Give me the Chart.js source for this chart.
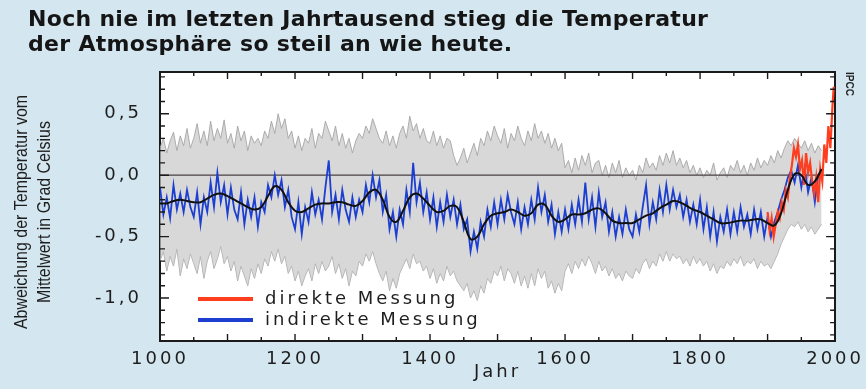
<!DOCTYPE html>
<html>
<head>
<meta charset="utf-8">
<script src="https://cdn.jsdelivr.net/npm/chart.js@4"></script>
<style>
  body { margin: 0; background: #d4e6ef; }
  #wrap { position: relative; width: 866px; height: 389px; }
  #title {
    position: absolute; left: 28px; top: 6px;
    font: bold 22px "DejaVu Sans", sans-serif;
    letter-spacing: 0.3px;
    line-height: 25px; color: #151515;
  }
  canvas { position: absolute; left: 0; top: 0; }
</style>
</head>
<body>
<div id="wrap">
  <canvas id="myChart" width="866" height="389"></canvas>
  <div id="title">Noch nie im letzten Jahrtausend stieg die Temperatur<br>der Atmosphäre so steil an wie heute.</div>
</div>
<script>
// Beschriftungen
const yTitleLines = ['Abweichung der Temperatur vom', 'Mittelwert in Grad Celsius']
const xTitle = 'Jahr'
const xTickLabels = { 1000: '1000', 1200: '1200', 1400: '1400', 1600: '1600', 1800: '1800', 2000: '2000' }
const yTickLabels = { '5': '0,5', '0': '0,0', '-5': '-0,5', '-10': '-1,0' }
const legendDirect = 'direkte Messung'
const legendIndirect = 'indirekte Messung'

// indirekte Messung (Proxy), alle 5 Jahre ab 1000
const proxyStart = 1000
const proxyValues = [
  -0.10,-0.32,-0.18,-0.35,-0.08,-0.28,-0.15,-0.30,-0.12,-0.26,
  -0.34,-0.14,-0.40,-0.18,-0.30,-0.06,-0.26,0.02,-0.22,-0.08,
  -0.32,-0.10,-0.28,-0.36,-0.14,-0.40,-0.20,-0.34,-0.18,-0.42,
  -0.22,-0.30,-0.08,-0.18,0.00,-0.16,-0.04,-0.26,-0.12,-0.34,
  -0.44,-0.22,-0.48,-0.26,-0.38,-0.14,-0.32,-0.20,-0.36,-0.10,
  0.12,-0.30,-0.16,-0.36,-0.12,-0.28,-0.38,-0.18,-0.34,-0.20,
  -0.30,-0.08,-0.22,0.00,-0.18,-0.04,-0.30,-0.16,-0.44,-0.30,
  -0.50,-0.28,-0.40,-0.12,-0.30,0.10,-0.22,-0.06,-0.30,-0.14,
  -0.36,-0.18,-0.42,-0.22,-0.38,-0.16,-0.34,-0.20,-0.40,-0.24,
  -0.44,-0.36,-0.62,-0.46,-0.60,-0.38,-0.50,-0.28,-0.42,-0.22,
  -0.40,-0.20,-0.36,-0.16,-0.30,-0.40,-0.22,-0.44,-0.26,-0.40,
  -0.20,-0.36,-0.10,-0.30,-0.16,-0.38,-0.24,-0.48,-0.30,-0.46,
  -0.28,-0.44,-0.24,-0.40,-0.20,-0.38,-0.06,-0.36,-0.18,-0.42,
  -0.14,-0.34,-0.22,-0.46,-0.30,-0.50,-0.34,-0.48,-0.28,-0.44,
  -0.50,-0.32,-0.46,-0.26,-0.08,-0.40,-0.22,-0.36,-0.12,-0.30,
  -0.08,-0.28,-0.12,-0.26,-0.16,-0.34,-0.20,-0.38,-0.24,-0.40,
  -0.20,-0.44,-0.26,-0.50,-0.30,-0.54,-0.34,-0.46,-0.28,-0.48,
  -0.30,-0.46,-0.26,-0.42,-0.32,-0.48,-0.28,-0.44,-0.30,-0.50,
  -0.34,-0.50,-0.38,-0.30,-0.20,-0.12,-0.02,0.04,-0.06,0.08,
  -0.10,0.06,-0.14,-0.02,-0.22,0.00,0.04
]

// Unsicherheitsbereich (grau), alle 5 Jahre ab 1000
const bandUpper = [
  0.22,0.30,0.18,0.28,0.35,0.20,0.32,0.24,0.38,0.22,
  0.30,0.42,0.26,0.36,0.24,0.44,0.28,0.38,0.30,0.45,
  0.26,0.34,0.22,0.40,0.28,0.36,0.20,0.32,0.26,0.30,
  0.24,0.36,0.30,0.44,0.34,0.50,0.38,0.46,0.30,0.36,
  0.22,0.32,0.20,0.30,0.26,0.38,0.22,0.34,0.30,0.44,
  0.36,0.28,0.40,0.24,0.34,0.22,0.30,0.18,0.28,0.34,
  0.30,0.40,0.34,0.46,0.38,0.30,0.26,0.36,0.24,0.32,
  0.22,0.34,0.40,0.30,0.48,0.36,0.42,0.30,0.38,0.28,
  0.26,0.36,0.24,0.32,0.22,0.30,0.28,0.16,0.08,0.14,
  0.22,0.10,0.18,0.26,0.16,0.30,0.24,0.36,0.28,0.40,
  0.32,0.26,0.38,0.22,0.34,0.28,0.40,0.30,0.24,0.36,
  0.28,0.42,0.30,0.36,0.26,0.34,0.22,0.30,0.20,0.26,
  0.06,0.12,0.02,0.14,0.04,0.16,0.08,0.18,0.02,0.10,
  0.12,0.00,0.08,-0.02,0.10,0.02,0.12,-0.02,0.06,0.00,
  0.04,-0.04,0.08,0.02,0.14,0.06,0.10,0.04,0.16,0.08,
  0.18,0.10,0.20,0.08,0.14,0.06,0.12,0.02,0.08,0.00,
  0.06,-0.02,0.04,0.00,0.10,-0.04,0.02,0.06,-0.02,0.08,
  0.04,0.12,0.02,0.08,0.00,0.10,0.04,0.14,0.06,0.12,
  0.08,0.16,0.10,0.20,0.14,0.22,0.28,0.24,0.30,0.26,
  0.22,0.28,0.20,0.26,0.18,0.24,0.20
]
const bandLower = [
  -0.70,-0.62,-0.78,-0.66,-0.74,-0.60,-0.82,-0.68,-0.76,-0.64,
  -0.72,-0.80,-0.66,-0.84,-0.70,-0.62,-0.76,-0.68,-0.58,-0.72,
  -0.66,-0.78,-0.70,-0.86,-0.74,-0.82,-0.90,-0.76,-0.84,-0.72,
  -0.80,-0.68,-0.74,-0.62,-0.70,-0.60,-0.72,-0.66,-0.80,-0.74,
  -0.86,-0.78,-0.90,-0.82,-0.76,-0.86,-0.72,-0.80,-0.70,-0.78,
  -0.74,-0.66,-0.80,-0.72,-0.84,-0.76,-0.90,-0.78,-0.82,-0.70,
  -0.74,-0.64,-0.70,-0.62,-0.72,-0.80,-0.86,-0.78,-0.94,-0.84,
  -0.92,-0.80,-0.74,-0.68,-0.76,-0.64,-0.72,-0.70,-0.78,-0.74,
  -0.84,-0.76,-0.88,-0.80,-0.86,-0.74,-0.82,-0.78,-0.86,-0.90,
  -0.94,-0.88,-1.00,-0.94,-1.02,-0.90,-0.96,-0.84,-0.88,-0.78,
  -0.82,-0.74,-0.86,-0.76,-0.80,-0.88,-0.78,-0.90,-0.82,-0.92,
  -0.80,-0.90,-0.76,-0.84,-0.78,-0.92,-0.86,-0.96,-0.88,-0.94,
  -0.78,-0.72,-0.80,-0.70,-0.76,-0.68,-0.74,-0.66,-0.72,-0.80,
  -0.70,-0.78,-0.74,-0.82,-0.76,-0.84,-0.80,-0.86,-0.78,-0.82,
  -0.84,-0.76,-0.80,-0.72,-0.68,-0.76,-0.70,-0.74,-0.64,-0.70,
  -0.62,-0.70,-0.64,-0.68,-0.66,-0.72,-0.68,-0.74,-0.66,-0.72,
  -0.68,-0.74,-0.70,-0.78,-0.72,-0.80,-0.74,-0.76,-0.70,-0.74,
  -0.68,-0.72,-0.66,-0.74,-0.70,-0.72,-0.68,-0.76,-0.70,-0.74,
  -0.72,-0.76,-0.70,-0.64,-0.56,-0.50,-0.44,-0.40,-0.42,-0.38,
  -0.44,-0.40,-0.46,-0.42,-0.48,-0.44,-0.40
]

// geglaettete Kurve (schwarz), alle 10 Jahre ab 1000
const smoothStart = 1000
const smoothValues = [
  -0.23,-0.23,-0.21,-0.20,-0.21,-0.22,-0.22,-0.19,-0.16,-0.15,
  -0.17,-0.20,-0.23,-0.26,-0.28,-0.26,-0.17,-0.09,-0.12,-0.22,
  -0.29,-0.30,-0.27,-0.24,-0.23,-0.23,-0.22,-0.22,-0.24,-0.25,
  -0.21,-0.14,-0.12,-0.20,-0.34,-0.38,-0.29,-0.18,-0.15,-0.19,
  -0.25,-0.30,-0.29,-0.25,-0.26,-0.38,-0.52,-0.50,-0.40,-0.33,
  -0.31,-0.30,-0.28,-0.30,-0.33,-0.31,-0.24,-0.24,-0.33,-0.38,
  -0.36,-0.32,-0.32,-0.31,-0.28,-0.27,-0.31,-0.37,-0.39,-0.39,
  -0.39,-0.36,-0.33,-0.31,-0.27,-0.24,-0.21,-0.22,-0.25,-0.28,
  -0.30,-0.33,-0.36,-0.39,-0.39,-0.38,-0.37,-0.37,-0.36,-0.36,
  -0.39,-0.41,-0.31,-0.12,0.01,0.00,-0.08,-0.05,0.05
]

// direkte Messung (rot)
const directYears = [1900,1903,1906,1909,1912,1915,1918,1921,1924,1927,1930,1933,1936,1939,1942,1945,1948,1951,1954,1957,1960,1963,1966,1969,1972,1975,1978,1981,1984,1987,1990,1993,1996,1998]
const directValues = [-0.30,-0.45,-0.35,-0.50,-0.40,-0.30,-0.35,-0.22,-0.28,-0.12,-0.18,-0.02,0.08,0.22,0.15,0.25,0.05,0.12,-0.08,0.18,0.02,0.10,-0.05,-0.15,-0.02,-0.22,0.05,-0.05,0.25,0.10,0.40,0.22,0.55,0.72]

const bandStep = 5
const proxyStep = 5
const smoothStep = 10

function toPoints(start, step, values) {
  return values.map((v, i) => ({ x: start + i * step, y: v }))
}

const grayLine = 'rgba(165,165,165,0.9)'
const frameColor = '#1a1a1a'

const datasets = [
  { label: 'smooth', data: toPoints(smoothStart, smoothStep, smoothValues), borderColor: '#111', borderWidth: 2, tension: 0.4, order: 0 },
  { label: legendDirect, data: directYears.map((y, i) => ({ x: y, y: directValues[i] })), borderColor: '#ff3d1f', borderWidth: 2.2, order: 1 },
  { label: legendIndirect, data: toPoints(proxyStart, proxyStep, proxyValues), borderColor: '#1c3fd2', borderWidth: 1.8, order: 2 },
  { label: 'null', data: [{ x: 1000, y: 0 }, { x: 2000, y: 0 }], borderColor: '#4a4040', borderWidth: 1.2, order: 3 },
  { label: 'upper', data: toPoints(proxyStart, bandStep, bandUpper), borderColor: grayLine, borderWidth: 1, backgroundColor: 'rgba(200,200,200,0.7)', fill: '+1', order: 4 },
  { label: 'lower', data: toPoints(proxyStart, bandStep, bandLower), borderColor: grayLine, borderWidth: 1, order: 5 }
]

const frame = {
  id: 'frame',
  beforeDraw(chart) {
    const { ctx, chartArea: a } = chart
    ctx.save()
    ctx.fillStyle = '#fff'
    ctx.fillRect(a.left, a.top, a.right - a.left, a.bottom - a.top)
    ctx.restore()
    ctx.letterSpacing = '3px'
  },
  afterDraw(chart) {
    const { ctx, chartArea: a, scales } = chart
    ctx.save()
    // Teilstriche nach innen
    ctx.strokeStyle = frameColor
    ctx.lineWidth = 1.4
    ctx.beginPath()
    for (let v = -13; v <= 8; v++) {
      const py = scales.y.getPixelForValue(v / 10)
      const len = v % 5 === 0 ? 9 : 5
      ctx.moveTo(a.left, py); ctx.lineTo(a.left + len, py)
      ctx.moveTo(a.right, py); ctx.lineTo(a.right - len, py)
    }
    for (let yr = 1050; yr < 2000; yr += 50) {
      const px = scales.x.getPixelForValue(yr)
      const len = yr % 100 === 0 ? 7 : 4
      ctx.moveTo(px, a.bottom); ctx.lineTo(px, a.bottom - len)
      ctx.moveTo(px, a.top); ctx.lineTo(px, a.top + len)
    }
    ctx.stroke()

    // Legende
    const items = [datasets[1], datasets[2]]
    ctx.font = '18px "DejaVu Sans", sans-serif'
    ctx.textBaseline = 'middle'
    ctx.textAlign = 'left'
    items.forEach((d, i) => {
      const ly = a.bottom - 42 + i * 21
      ctx.strokeStyle = d.borderColor
      ctx.lineWidth = 4
      ctx.beginPath()
      ctx.moveTo(a.left + 38, ly); ctx.lineTo(a.left + 93, ly)
      ctx.stroke()
      ctx.fillStyle = '#1e1e1e'
      ctx.fillText(d.label, a.left + 105, ly)
    })

    // Achsentitel links
    ctx.letterSpacing = '0px'
    ctx.fillStyle = '#1e1e1e'
    ctx.font = '19px "Liberation Sans", sans-serif'
    ctx.textAlign = 'center'
    ctx.translate(22, 212)
    ctx.rotate(-Math.PI / 2)
    ctx.scale(0.84, 1)
    ctx.fillText(yTitleLines[0], 0, 0)
    ctx.fillText(yTitleLines[1], 0, 23)
    ctx.restore()

    // IPCC
    ctx.save()
    ctx.letterSpacing = '0px'
    ctx.fillStyle = '#222'
    ctx.font = 'bold 10px "Liberation Sans", sans-serif'
    ctx.translate(a.right + 14, a.top + 12)
    ctx.rotate(Math.PI / 2)
    ctx.textAlign = 'center'
    ctx.textBaseline = 'middle'
    ctx.fillText('IPCC', 0, 0)
    ctx.restore()
  }
}

// Rahmenachsen oben und rechts, nur die Linie
const edgeAxis = (position) => ({
  type: 'linear', position: position,
  min: position === 'top' ? 1000 : -1.35, max: position === 'top' ? 2000 : 0.84,
  afterFit: (s) => { if (position === 'top') s.height = 0; else s.width = 0 },
  grid: { drawOnChartArea: false, drawTicks: false },
  border: { display: true, color: frameColor, width: 2 },
  ticks: { display: false }
})

new Chart(document.getElementById('myChart'), {
  type: 'line',
  data: { datasets: datasets },
  options: {
    responsive: false,
    animation: false,
    elements: { point: { radius: 0 }, line: { fill: false } },
    layout: { padding: { top: 72, right: 26, left: 0, bottom: 0 } },
    plugins: { legend: { display: false }, tooltip: { enabled: false }, title: { display: false } },
    scales: {
      x: {
        type: 'linear', min: 1000, max: 2000,
        afterFit: (s) => { s.height = 48 },
        afterBuildTicks: (s) => { s.ticks = Object.keys(xTickLabels).map(k => ({ value: +k })) },
        grid: { drawOnChartArea: false, drawTicks: false },
        border: { display: true, color: frameColor, width: 2 },
        ticks: {
          autoSkip: false, maxRotation: 0, padding: 8, color: '#1e1e1e',
          font: { family: '"DejaVu Sans", sans-serif', size: 18 },
          callback: (v) => xTickLabels[v] || ''
        },
        title: { display: true, text: xTitle, color: '#1e1e1e', padding: { top: 0, bottom: 6 },
          font: { family: '"DejaVu Sans", sans-serif', size: 18 } }
      },
      y: {
        type: 'linear', min: -1.35, max: 0.84,
        afterFit: (s) => { s.width = 160 },
        afterBuildTicks: (s) => { s.ticks = Object.keys(yTickLabels).map(k => ({ value: +k / 10 })) },
        grid: { drawOnChartArea: false, drawTicks: false },
        border: { display: true, color: frameColor, width: 2 },
        ticks: {
          autoSkip: false, padding: 18, color: '#1e1e1e',
          font: { family: '"DejaVu Sans", sans-serif', size: 18 },
          callback: (v) => yTickLabels[String(Math.round(v * 10))] || ''
        }
      },
      xTop: edgeAxis('top'),
      yRight: edgeAxis('right')
    }
  },
  plugins: [frame]
})
</script>
</body>
</html>
